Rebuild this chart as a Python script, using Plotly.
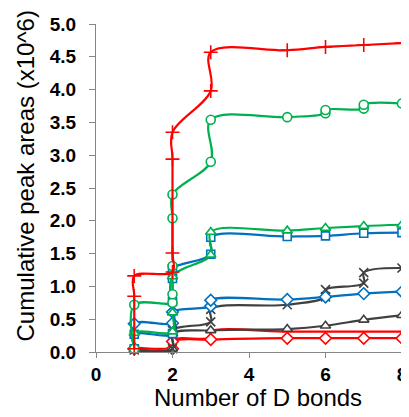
import plotly.graph_objects as go

# Red "+" series
red_plus_x = [1, 1, 1, 2, 2, 2, 2, 3, 3, 5, 6, 7, 8]
red_plus_y = [0.05, 0.85, 1.16, 1.22, 1.51, 2.94, 3.35, 3.98, 4.57, 4.60, 4.65, 4.68, 4.71]

# Green circle series
green_circ_x = [1, 1, 2, 2, 2, 2, 2, 3, 3, 5, 6, 6, 7, 7, 8]
green_circ_y = [0.05, 0.72, 0.75, 0.88, 1.31, 2.04, 2.40, 2.90, 3.54, 3.58, 3.64, 3.69, 3.71, 3.77, 3.79]

# Green triangle series
green_tri_x = [1, 1, 2, 2, 2, 3, 3, 5, 6, 7, 8]
green_tri_y = [0.05, 0.29, 0.31, 0.60, 1.15, 1.48, 1.83, 1.85, 1.89, 1.92, 1.94]

# Blue square series
blue_sq_x = [1, 1, 2, 2, 2, 2, 3, 3, 5, 6, 7, 8]
blue_sq_y = [0.05, 0.27, 0.28, 0.77, 1.12, 1.27, 1.49, 1.75, 1.76, 1.77, 1.81, 1.82]

# Dark grey "x" series
grey_x_x = [1, 2, 2, 3, 3, 5, 6, 6, 7, 7, 8]
grey_x_y = [0.03, 0.05, 0.33, 0.46, 0.65, 0.72, 0.84, 0.95, 1.05, 1.21, 1.28]

# Blue diamond series
blue_dia_x = [1, 1, 2, 2, 3, 3, 5, 6, 7, 8]
blue_dia_y = [0.05, 0.43, 0.44, 0.61, 0.70, 0.79, 0.80, 0.84, 0.89, 0.92]

# Dark grey triangle series
grey_tri_x = [1, 2, 2, 3, 5, 6, 7, 8]
grey_tri_y = [0.03, 0.05, 0.28, 0.33, 0.35, 0.40, 0.49, 0.56]

# Red line (no visible markers)
red_line_x = [1, 2, 2, 3, 3, 5, 6, 7, 8]
red_line_y = [0.07, 0.08, 0.19, 0.22, 0.31, 0.31, 0.31, 0.31, 0.31]

# Red diamond series
red_dia_x = [1, 2, 2, 3, 5, 6, 7, 8]
red_dia_y = [0.05, 0.05, 0.16, 0.19, 0.21, 0.21, 0.21, 0.21]

x_tick_vals = [0, 2, 4, 6, 8]
x_tick_text = ["0", "2", "4", "6", "8"]
y_tick_vals = [0, 0.5, 1, 1.5, 2, 2.5, 3, 3.5, 4, 4.5, 5]
y_tick_text = ["0.0", "0.5", "1.0", "1.5", "2.0", "2.5", "3.0", "3.5", "4.0", "4.5", "5.0"]

x_title = "Number of D bonds"
y_title = "Cumulative peak areas (x10^6)"

RED = "#FF0000"
GREEN = "#00B050"
BLUE = "#0070C0"
GREY = "#404040"

series = [
    (red_line_x, red_line_y, RED, None, 0),
    (red_dia_x, red_dia_y, RED, "diamond", 9),
    (grey_tri_x, grey_tri_y, GREY, "triangle-up", 9),
    (grey_x_x, grey_x_y, GREY, "x-thin", 9),
    (blue_dia_x, blue_dia_y, BLUE, "diamond", 9),
    (blue_sq_x, blue_sq_y, BLUE, "square", 8),
    (green_tri_x, green_tri_y, GREEN, "triangle-up", 9),
    (green_circ_x, green_circ_y, GREEN, "circle", 9),
    (red_plus_x, red_plus_y, RED, "cross-thin", 10),
]

fig = go.Figure()
for xs, ys, col, sym, sz in series:
    if sym is None:
        fig.add_trace(go.Scatter(x=xs, y=ys, mode="lines",
                                 line=dict(color=col, width=2.2, shape="spline", smoothing=1.0),
                                 showlegend=False, cliponaxis=False))
    else:
        thin = sym.endswith("thin")
        fig.add_trace(go.Scatter(
            x=xs, y=ys, mode="lines+markers",
            line=dict(color=col, width=2.2, shape="spline", smoothing=1.0),
            marker=dict(symbol=sym, size=sz, color="white" if not thin else col,
                        line=dict(color=col, width=1.6)),
            showlegend=False, cliponaxis=False))

axis_font = dict(family="Liberation Sans, Arial, sans-serif", size=19, color="#000000", weight="bold")
title_font = dict(family="Liberation Sans, Arial, sans-serif", size=24, color="#000000")

# The page body adds an 8px offset, so the figure is sized 8px smaller.
fig.update_layout(
    width=401, height=409,
    margin=dict(l=88, r=7, t=16, b=65),
    paper_bgcolor="white", plot_bgcolor="white",
    xaxis=dict(range=[0, 8], tickvals=x_tick_vals, ticktext=x_tick_text, automargin=False,
               showgrid=False, zeroline=False, showline=True, linecolor="#868686", linewidth=1,
               ticks="outside", ticklen=5, tickcolor="#868686", tickfont=axis_font,
               ticklabelstandoff=0),
    yaxis=dict(range=[0, 5], tickvals=y_tick_vals, ticktext=y_tick_text, automargin=False,
               showgrid=False, zeroline=False, showline=True, linecolor="#868686", linewidth=1,
               ticks="outside", ticklen=6, tickcolor="#868686", tickfont=axis_font,
               ticklabelstandoff=9),
    annotations=[
        dict(text=x_title, xref="paper", yref="paper", x=0.528, y=-0.140,
             xanchor="center", yanchor="middle", showarrow=False, font=title_font),
        dict(text=y_title, xref="paper", yref="paper", x=-0.229, y=0.538,
             xanchor="center", yanchor="middle", showarrow=False, font=title_font,
             textangle=-90),
    ],
)

fig.write_html("out.html")
